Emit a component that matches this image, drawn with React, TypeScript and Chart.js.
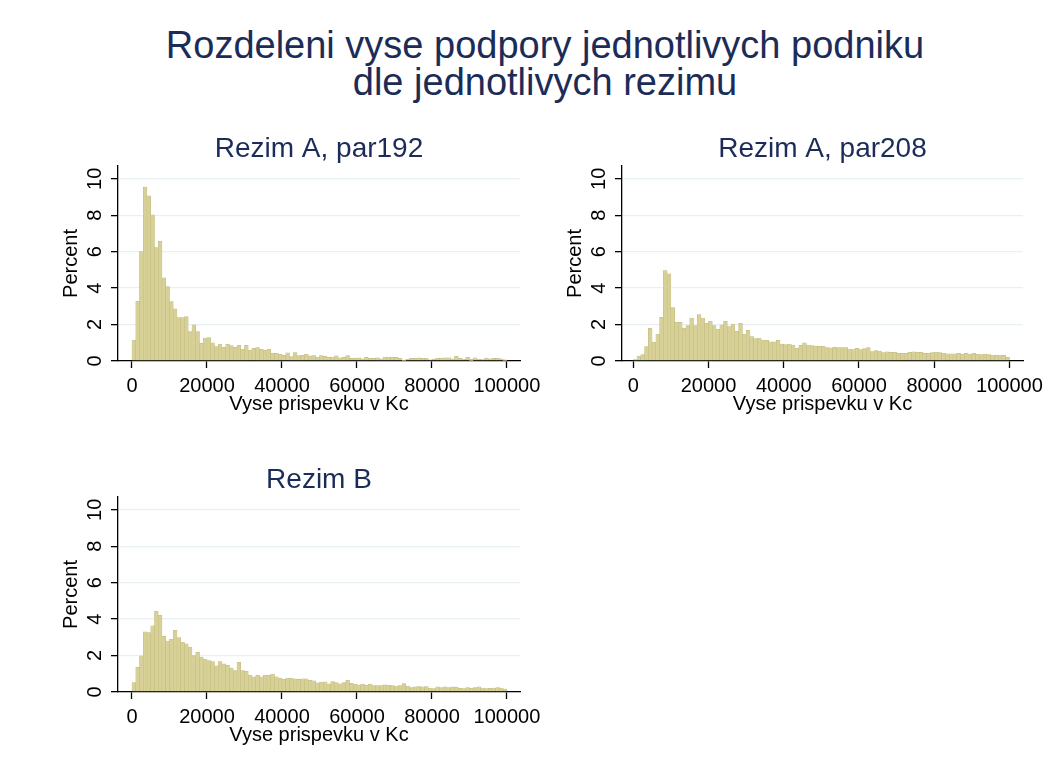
import React, { useEffect, useRef } from "react";
import { Chart, registerables } from "chart.js";

Chart.register(...registerables);

const FONT = '"Liberation Sans", Arial, Helvetica, sans-serif';
Chart.defaults.font.family = FONT;

const MAIN_TITLE = ["Rozdeleni vyse podpory jednotlivych podniku", "dle jednotlivych rezimu"];
const PANEL_TITLES = ["Rezim A, par192", "Rezim A, par208", "Rezim B"];
const X_TITLE = "Vyse prispevku v Kc";
const Y_TITLE = "Percent";
const X_TICKS = [0, 20000, 40000, 60000, 80000, 100000];
const Y_TICKS = [0, 2, 4, 6, 8, 10];
const BIN_START = 0;
const BIN_WIDTH = 1000;

// Percent per bin (100 bins of width 1000 from 0 to 100000)
const REZIM_A192 = [
  1.15, 3.28, 6.0, 9.54, 9.07, 8.02, 6.23, 6.57, 4.56, 4.08,
  3.26, 2.86, 2.38, 2.38, 2.44, 1.61, 1.98, 1.61, 0.97, 1.26,
  1.28, 1.0, 0.79, 0.93, 0.75, 0.92, 0.84, 0.75, 0.86, 0.66,
  0.86, 0.6, 0.7, 0.73, 0.64, 0.6, 0.64, 0.42, 0.42, 0.37,
  0.31, 0.45, 0.24, 0.46, 0.3, 0.31, 0.38, 0.28, 0.3, 0.22,
  0.3, 0.26, 0.2, 0.22, 0.28, 0.18, 0.2, 0.3, 0.15, 0.16,
  0.17, 0.12, 0.2, 0.14, 0.16, 0.17, 0.12, 0.22, 0.22, 0.2,
  0.2, 0.15, 0.05, 0.1, 0.15, 0.15, 0.17, 0.15, 0.14, 0.07,
  0.1, 0.15, 0.14, 0.17, 0.17, 0.12, 0.26, 0.14, 0.1, 0.2,
  0.09, 0.18, 0.1, 0.08, 0.14, 0.12, 0.14, 0.14, 0.12, 0.06,
];

const REZIM_A208 = [
  0.08, 0.27, 0.35, 0.79, 1.8, 1.04, 1.48, 2.4, 4.96, 4.78,
  2.93, 2.12, 2.12, 1.8, 1.94, 2.36, 1.94, 2.55, 2.36, 2.07,
  2.18, 1.94, 1.74, 1.98, 2.18, 1.89, 2.03, 1.63, 2.07, 1.48,
  1.68, 1.34, 1.23, 1.26, 1.15, 1.13, 1.05, 1.05, 1.13, 0.93,
  0.9, 0.93, 0.88, 0.7, 0.86, 1.0, 0.88, 0.84, 0.82, 0.82,
  0.8, 0.74, 0.72, 0.75, 0.74, 0.73, 0.73, 0.66, 0.62, 0.7,
  0.62, 0.68, 0.73, 0.52, 0.57, 0.55, 0.46, 0.51, 0.48, 0.48,
  0.42, 0.42, 0.42, 0.48, 0.51, 0.48, 0.48, 0.42, 0.42, 0.46,
  0.49, 0.46, 0.42, 0.4, 0.4, 0.4, 0.42, 0.38, 0.42, 0.38,
  0.42, 0.37, 0.35, 0.38, 0.35, 0.33, 0.31, 0.33, 0.31, 0.2,
];

const REZIM_B = [
  0.52, 1.35, 1.98, 3.3, 3.26, 3.63, 4.44, 4.22, 3.06, 2.8,
  2.89, 3.39, 2.98, 2.74, 2.65, 2.46, 2.0, 2.17, 1.91, 1.81,
  1.72, 1.67, 1.43, 1.67, 1.54, 1.46, 1.31, 1.17, 1.63, 1.17,
  1.13, 0.93, 0.83, 0.91, 0.83, 0.93, 0.93, 0.98, 0.83, 0.76,
  0.7, 0.76, 0.76, 0.72, 0.69, 0.72, 0.72, 0.64, 0.61, 0.5,
  0.54, 0.56, 0.45, 0.57, 0.52, 0.45, 0.52, 0.65, 0.47, 0.43,
  0.39, 0.43, 0.37, 0.43, 0.35, 0.35, 0.35, 0.39, 0.37, 0.35,
  0.33, 0.35, 0.46, 0.33, 0.24, 0.28, 0.3, 0.28, 0.3, 0.22,
  0.19, 0.28, 0.24, 0.28, 0.24, 0.28, 0.26, 0.2, 0.19, 0.24,
  0.2, 0.24, 0.28, 0.22, 0.19, 0.2, 0.22, 0.24, 0.22, 0.16,
];

const NAVY = "rgb(28, 44, 88)";
const BAR_FILL = "rgb(215, 209, 152)";
const BAR_LINE = "rgb(192, 185, 122)";
const GRID = "rgb(232, 240, 243)";
const FS = 20;

const panelDecor = {
  id: "panelDecor",
  afterDraw(chart: any, _args: any, opts: any) {
    const s = chart.scales.y;
    const area = chart.chartArea;
    const ctx = chart.ctx;
    ctx.save();
    // y tick labels, rotated like Stata
    ctx.fillStyle = "#000";
    ctx.font = `${FS}px ${FONT}`;
    ctx.textAlign = "center";
    ctx.textBaseline = "alphabetic";
    for (const t of s.ticks) {
      const y = s.getPixelForValue(t.value);
      ctx.save();
      ctx.translate(s.right - 17, y);
      ctx.rotate(-Math.PI / 2);
      ctx.fillText(String(t.value), 0, 0);
      ctx.restore();
    }
    // panel title centred over the plot region
    ctx.fillStyle = NAVY;
    ctx.font = `28px ${FONT}`;
    ctx.textAlign = "center";
    ctx.fillText(opts.text, (area.left + area.right) / 2, area.top - 9);
    ctx.restore();
  },
};

type PanelProps = {
  title: string;
  values: number[];
  xMin: number;
  xMax: number;
  left: number;
  top: number;
  width: number;
  height: number;
  padRight: number;
};

function Panel({ title, values, xMin, xMax, left, top, width, height, padRight }: PanelProps) {
  const ref = useRef<HTMLCanvasElement>(null);
  useEffect(() => {
    const chart = new Chart(ref.current as HTMLCanvasElement, {
      type: "bar",
      data: {
        datasets: [
          {
            data: values.map((v, i) => ({ x: BIN_START + BIN_WIDTH * (i + 0.5), y: v })),
            backgroundColor: BAR_FILL,
            borderColor: BAR_LINE,
            borderWidth: 0.5,
            barPercentage: 1,
            categoryPercentage: 1,
          } as any,
        ],
      },
      options: {
        responsive: false,
        maintainAspectRatio: false,
        animation: false,
        events: [],
        layout: { padding: { left: 50, right: padRight, top: 46, bottom: 0 } },
        plugins: {
          legend: { display: false },
          tooltip: { enabled: false },
          title: { display: false },
          panelDecor: { text: title },
        },
        scales: {
          x: {
            type: "linear",
            min: xMin,
            max: xMax,
            offset: false,
            afterBuildTicks: (s: any) => {
              s.ticks = X_TICKS.map((v) => ({ value: v }));
            },
            afterFit: (s: any) => {
              s.height = 69;
              s.paddingLeft = 0;
              s.paddingRight = 0;
            },
            ticks: {
              callback: (v: any) => String(v),
              color: "#000",
              font: { size: FS },
              padding: 6,
              maxRotation: 0,
              minRotation: 0,
              autoSkip: false,
            },
            grid: {
              display: true,
              drawOnChartArea: false,
              drawTicks: true,
              tickLength: 7,
              tickColor: "#000",
              tickWidth: 1.3,
              offset: false,
            },
            border: { display: true, color: "#000", width: 1.3 },
            title: {
              display: true,
              text: X_TITLE,
              color: "#000",
              font: { size: FS },
              padding: { top: 0, bottom: 14 },
            },
          },
          y: {
            type: "linear",
            min: 0,
            max: 10.7,
            afterBuildTicks: (s: any) => {
              s.ticks = Y_TICKS.map((v) => ({ value: v }));
            },
            afterFit: (s: any) => {
              s.width = 68;
              s.paddingTop = 0;
              s.paddingBottom = 0;
            },
            ticks: { color: "rgba(0,0,0,0)", font: { size: FS } },
            grid: {
              color: GRID,
              lineWidth: 1.3,
              drawTicks: true,
              tickLength: 7,
              tickColor: "#000",
              tickWidth: 1.3,
            },
            border: { display: true, color: "#000", width: 1.3 },
            title: {
              display: true,
              text: Y_TITLE,
              color: "#000",
              font: { size: FS },
              padding: { top: 9, bottom: 0 },
            },
          },
        },
      } as any,
      plugins: [panelDecor],
    });
    return () => chart.destroy();
  }, []);
  return (
    <canvas
      ref={ref}
      width={width}
      height={height}
      style={{ position: "absolute", left, top, width, height, display: "block" }}
    />
  );
}

export default function App() {
  return (
    <div
      style={{
        position: "absolute",
        left: 0,
        top: 0,
        width: 1049,
        height: 778,
        background: "#fff",
        overflow: "hidden",
        fontFamily: FONT,
      }}
    >
      <div
        style={{
          position: "absolute",
          left: 0,
          top: 27,
          width: 1090,
          textAlign: "center",
          color: NAVY,
          fontSize: 38,
          lineHeight: "37px",
        }}
      >
        <div>{MAIN_TITLE[0]}</div>
        <div>{MAIN_TITLE[1]}</div>
      </div>
      <Panel title={PANEL_TITLES[0]} values={REZIM_A192} xMin={-3730} xMax={103470} left={0} top={120} width={540} height={310} padRight={20} />
      <Panel title={PANEL_TITLES[1]} values={REZIM_A208} xMin={-3000} xMax={103600} left={504} top={120} width={540} height={310} padRight={21} />
      <Panel title={PANEL_TITLES[2]} values={REZIM_B} xMin={-3730} xMax={103470} left={0} top={451} width={540} height={310} padRight={20} />
    </div>
  );
}
